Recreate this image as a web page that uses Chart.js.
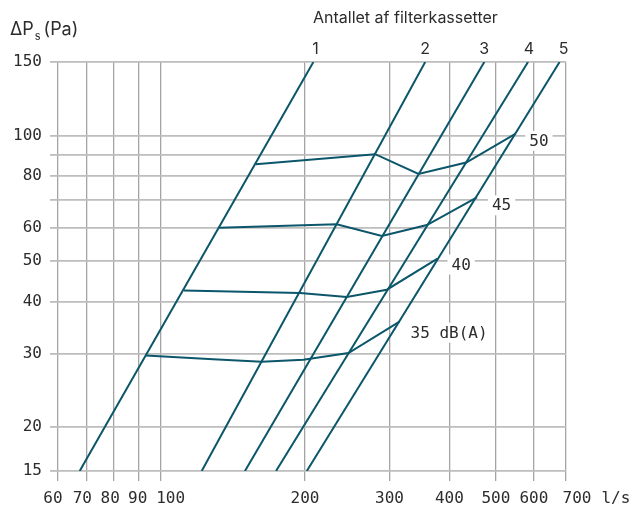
<!DOCTYPE html>
<html>
<head>
<meta charset="utf-8">
<script src="https://cdn.jsdelivr.net/npm/chart.js@4/dist/chart.umd.min.js"></script>
<style>
  html, body { margin: 0; padding: 0; background: #fff; }
  #wrap { width: 635px; height: 508px; position: relative; }
</style>
</head>
<body>
<div id="wrap"><canvas id="c" width="635" height="508"></canvas></div>
<script>
// ---------- data ----------
// axis ticks
const X_TICKS = [60, 70, 80, 90, 100, 200, 300, 400, 500, 600, 700];
const X_TICK_LABELS = ['60', '70', '80', '90', '100', '200', '300', '400', '500', '600', '700'];
const X_UNIT = 'l/s';
const Y_TICKS = [15, 20, 30, 40, 50, 60, 70, 80, 90, 100, 150];
const Y_TICK_LABELS = ['15', '20', '30', '40', '50', '60', '', '80', '', '100', '150'];
// axis range (the bottom/left edges are labelled 15 and 60)
const X_MIN = 61.1, X_MAX = 700;
const Y_MIN = 15.7, Y_MAX = 150;

// system lines: number of filter cassettes
const LINE_LABELS = ['1', '2', '3', '4', '5'];
const LINE_Q_BOTTOM = [67.8, 121.8, 149.9, 174.0, 201.7];   // l/s at bottom edge
const LINE_Q_TOP = [208.2, 356.1, 472.9, 583.3, 678.8];     // l/s at 150 Pa
const LINE_P_BOTTOM = 15.7;
const LINE_P_TOP = 150;

// sound level curves
const DB_LABELS = ['50', '45', '40', '35 dB(A)'];
const DB50_Q = [157.9, 280.1, 344.8, 433.6, 548.8];
const DB50_P = [85.3, 90.2, 80.9, 86.1, 100.9];
const DB45_Q = [132.5, 232.9, 289.2, 359.0, 456.5];
const DB45_P = [60.1, 61.3, 57.4, 61.0, 71.1];
const DB40_Q = [111.8, 195.3, 244.4, 296.2, 377.8];
const DB40_P = [42.5, 41.9, 41.0, 42.7, 50.7];
const DB35_Q = [93.2, 128.6, 162.5, 198.4, 246.4, 314.8];
const DB35_P = [29.7, 29.1, 28.7, 29.0, 30.1, 35.8];

// ---------- style ----------
const LINE_COLOR = '#0b566a';
const TEXT_COLOR = '#2c2c2c';
const MONO = '"DejaVu Sans Mono", "Liberation Mono", monospace';
const SANS = 'Inter, "Open Sans", "DejaVu Sans", sans-serif';
const X_LABEL_SHIFT = [-5, -4, -4, -1, 10, 0, 0, 0, 0, 0, 11];
const LINE_LABEL_SHIFT = [2, 0, 0, 1, 4];
const DB_LABEL_OFFSET = [[14, 7], [15, 8], [14, 6], [11, 11]];

// ---------- build ----------
const zip = (qs, ps) => qs.map((q, i) => ({ x: q, y: ps[i] }));
const datasets = [];
LINE_LABELS.forEach((lab, i) => {
  datasets.push({
    label: 'Linje ' + lab,
    data: [{ x: LINE_Q_BOTTOM[i], y: LINE_P_BOTTOM }, { x: LINE_Q_TOP[i], y: LINE_P_TOP }],
    borderColor: LINE_COLOR, borderWidth: 2, pointRadius: 0, tension: 0, fill: false
  });
});
const curves = [zip(DB50_Q, DB50_P), zip(DB45_Q, DB45_P), zip(DB40_Q, DB40_P), zip(DB35_Q, DB35_P)];
curves.forEach((pts, i) => {
  datasets.push({
    label: DB_LABELS[i],
    data: pts,
    borderColor: LINE_COLOR, borderWidth: 2, pointRadius: 0, tension: 0, fill: false
  });
});

const textPlugin = {
  id: 'texts',
  beforeDatasetsDraw(chart) {
    const { ctx, scales: { x, y } } = chart;
    ctx.save();
    ctx.font = '16px ' + MONO;
    ctx.textBaseline = 'middle';
    ctx.textAlign = 'left';
    curves.forEach((pts, i) => {
      const last = pts[pts.length - 1];
      const px = x.getPixelForValue(last.x) + DB_LABEL_OFFSET[i][0];
      const py = y.getPixelForValue(last.y) + DB_LABEL_OFFSET[i][1];
      const w = ctx.measureText(DB_LABELS[i]).width;
      ctx.fillStyle = '#ffffff';
      ctx.fillRect(px - 4, py - 10, w + 8, 20);
      ctx.fillStyle = TEXT_COLOR;
      ctx.fillText(DB_LABELS[i], px, py + 1);
    });
    ctx.restore();
  },
  afterDraw(chart) {
    const { ctx, scales: { x, y }, chartArea } = chart;
    ctx.save();
    ctx.fillStyle = TEXT_COLOR;
    // x tick labels
    ctx.font = '16px ' + MONO;
    ctx.textAlign = 'center';
    ctx.textBaseline = 'middle';
    let lastRight = 0;
    X_TICKS.forEach((v, i) => {
      const px = x.getPixelForValue(Math.max(v, X_MIN)) + X_LABEL_SHIFT[i];
      ctx.fillText(X_TICK_LABELS[i], px, 499);
      lastRight = px + ctx.measureText(X_TICK_LABELS[i]).width / 2;
    });
    ctx.textAlign = 'left';
    ctx.fillText(X_UNIT, lastRight + 10, 499);

    // line numbers on top
    ctx.font = '16px ' + SANS;
    ctx.textAlign = 'center';
    ctx.textBaseline = 'alphabetic';
    LINE_LABELS.forEach((lab, i) => {
      const px = x.getPixelForValue(LINE_Q_TOP[i]) + LINE_LABEL_SHIFT[i];
      ctx.fillText(lab, px, chartArea.top - 8.5);
    });

    // top caption
    ctx.textAlign = 'left';
    ctx.font = '16px ' + SANS;
    ctx.fillText('Antallet af filterkassetter', 313, 22.5);

    // y axis title: ΔPs (Pa)
    ctx.font = '18px ' + SANS;
    ctx.fillText('\u0394P', 10, 35);
    let wx = 10 + ctx.measureText('\u0394P').width + 1;
    ctx.font = '11px ' + SANS;
    ctx.fillText('s', wx, 39.5);
    wx += ctx.measureText('s').width + 3;
    ctx.font = '18px ' + SANS;
    ctx.fillText('(Pa)', wx, 35);
    ctx.restore();
  }
};

new Chart(document.getElementById('c'), {
  type: 'line',
  data: { datasets },
  options: {
    responsive: false,
    animation: false,
    layout: { padding: { left: 0, right: 69, top: 62, bottom: 0 } },
    plugins: { legend: { display: false }, tooltip: { enabled: false } },
    scales: {
      x: {
        type: 'logarithmic',
        min: X_MIN, max: X_MAX,
        afterBuildTicks: (s) => { s.ticks = X_TICKS.map(v => ({ value: Math.max(v, X_MIN) })); },
        afterFit: (s) => { s.height = 37; },
        ticks: { display: false },
        grid: { color: '#a4a4a4', lineWidth: 1.3, drawTicks: true, tickLength: 10 },
        border: { display: false }
      },
      y: {
        type: 'logarithmic',
        min: Y_MIN, max: Y_MAX,
        afterBuildTicks: (s) => { s.ticks = Y_TICKS.map(v => ({ value: Math.max(v, Y_MIN) })); },
        afterFit: (s) => { s.width = 58; },
        ticks: {
          autoSkip: false,
          padding: 8,
          color: TEXT_COLOR,
          font: { family: MONO, size: 16 },
          callback: (v, i) => Y_TICK_LABELS[i]
        },
        grid: { color: '#bdbdbd', lineWidth: 1.8, drawTicks: true, tickLength: 8 },
        border: { display: false }
      }
    }
  },
  plugins: [textPlugin]
});
</script>
</body>
</html>
